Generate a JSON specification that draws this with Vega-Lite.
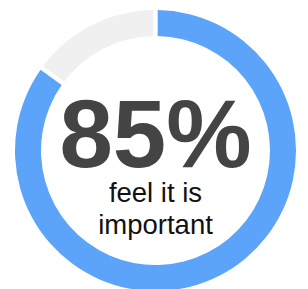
{
  "$schema": "https://vega.github.io/schema/vega-lite/v6.json",
  "width": 305,
  "height": 277,
  "padding": {"left": 3, "top": 12, "right": 0, "bottom": 0},
  "autosize": "none",
  "background": "white",
  "config": {"view": {"stroke": null}},
  "layer": [
    {
      "data": {"values": [
        {"segment": "Important", "share": 85},
        {"segment": "Other", "share": 15}
      ]},
      "mark": {"type": "arc", "outerRadius": 140.5, "innerRadius": 114.5, "padAngle": 0.024},
      "encoding": {
        "theta": {"field": "share", "type": "quantitative", "stack": true},
        "color": {"field": "segment", "type": "nominal", "scale": {"domain": ["Important", "Other"], "range": ["#5ba4fa", "#f0f0f0"]}, "legend": null}
      }
    },
    {
      "data": {"values": [{"label": "85%"}]},
      "mark": {"type": "text", "font": "Liberation Sans", "fontWeight": "bold", "fontSize": 96, "color": "#444444", "baseline": "alphabetic", "align": "center", "dy": 16.5},
      "encoding": {"text": {"field": "label", "type": "nominal"}}
    },
    {
      "data": {"values": [{"label": "feel it is"}]},
      "mark": {"type": "text", "font": "Liberation Sans", "fontSize": 27.5, "color": "#111111", "baseline": "alphabetic", "align": "center", "dy": 51},
      "encoding": {"text": {"field": "label", "type": "nominal"}}
    },
    {
      "data": {"values": [{"label": "important"}]},
      "mark": {"type": "text", "font": "Liberation Sans", "fontSize": 27.5, "color": "#111111", "baseline": "alphabetic", "align": "center", "dy": 83},
      "encoding": {"text": {"field": "label", "type": "nominal"}}
    }
  ]
}
